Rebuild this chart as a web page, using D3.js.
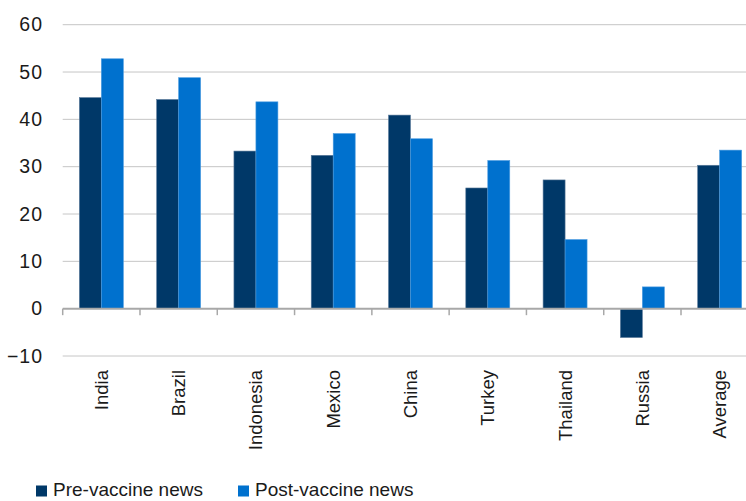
<!DOCTYPE html>
<html>
<head>
<meta charset="utf-8">
<script src="https://cdn.jsdelivr.net/npm/d3@7"></script>
<style>
  html, body { margin: 0; padding: 0; background: #fff; }
  svg { display: block; font-family: "Liberation Sans", Arial, Helvetica, sans-serif; }
</style>
</head>
<body>
<svg id="chart" width="746" height="501"></svg>
<script>
// Survey results by country, before and after the vaccine announcement
const categories = ["India", "Brazil", "Indonesia", "Mexico", "China", "Turkey", "Thailand", "Russia", "Average"];
const seriesNames = ["Pre-vaccine news", "Post-vaccine news"];
const preVaccine = [44.6, 44.2, 33.3, 32.4, 40.9, 25.5, 27.2, -6.1, 30.3];
const postVaccine = [52.8, 48.8, 43.7, 37.0, 35.9, 31.3, 14.6, 4.6, 33.5];
const yTicks = [-10, 0, 10, 20, 30, 40, 50, 60];

const colors = ["#003868", "#0071ce"];
const strokes = ["#5a7a9a", "#4a9be0"];

const svg = d3.select("#chart");
const W = 746, H = 501;

const plotLeft = 62.7, plotRight = 758.3;
const y = d3.scaleLinear().domain([-10, 60]).range([356, 24.7]);
const x = d3.scaleBand().domain(categories).range([plotLeft, plotRight]).padding(0);
const xs = d3.scaleBand().domain(seriesNames).range([0, x.bandwidth()])
  .paddingInner(0).paddingOuter(0.758);

// Horizontal gridlines
svg.append("g")
  .selectAll("line")
  .data(yTicks.filter(t => t !== 0))
  .join("line")
  .attr("x1", plotLeft).attr("x2", W)
  .attr("y1", d => y(d)).attr("y2", d => y(d))
  .attr("stroke", "#c6c6c6").attr("stroke-width", 1);

// Y axis labels
const yAxis = d3.axisLeft(y).tickValues(yTicks).tickSize(0).tickPadding(0);
const gy = svg.append("g").attr("transform", "translate(43,0)").call(yAxis);
gy.select(".domain").remove();
gy.selectAll("text")
  .attr("font-size", 19.5)
  .attr("letter-spacing", 1)
  .attr("fill", "#1a1a1a")
  .attr("font-family", "'Liberation Sans', Arial, sans-serif");

// Bars
const rows = categories.map((c, i) => ({ cat: c, values: [preVaccine[i], postVaccine[i]] }));
const groups = svg.append("g").selectAll("g")
  .data(rows).join("g")
  .attr("transform", d => `translate(${x(d.cat)},0)`);
groups.selectAll("rect")
  .data(d => d.values.map((v, k) => ({ v, k })))
  .join("rect")
  .attr("x", d => xs(seriesNames[d.k]))
  .attr("width", xs.bandwidth())
  .attr("y", d => Math.min(y(d.v), y(0)))
  .attr("height", d => Math.abs(y(d.v) - y(0)))
  .attr("fill", d => colors[d.k])
  .attr("stroke", d => strokes[d.k])
  .attr("stroke-width", 0.6);

// Zero baseline with category tick marks
const xAxis = d3.axisBottom(x).tickSize(0).tickFormat("");
const gx = svg.append("g").attr("transform", `translate(0,${y(0)})`).call(xAxis);
gx.selectAll(".tick").remove();
gx.select(".domain").remove();
gx.append("line")
  .attr("x1", plotLeft).attr("x2", W)
  .attr("y1", 0).attr("y2", 0)
  .attr("stroke", "#a8a8a8").attr("stroke-width", 2);
gx.selectAll("line.sep")
  .data(categories.map(c => x(c)))
  .join("line")
  .attr("class", "sep")
  .attr("x1", d => d).attr("x2", d => d)
  .attr("y1", 0).attr("y2", 6.5)
  .attr("stroke", "#a8a8a8").attr("stroke-width", 1.5);

// Rotated category labels
svg.append("g").selectAll("text")
  .data(categories).join("text")
  .attr("transform", d => `translate(${x(d) + x.bandwidth() / 2 + 6.5},370) rotate(-90)`)
  .attr("text-anchor", "end")
  .attr("font-size", 18.5)
  .attr("fill", "#1a1a1a")
  .text(d => d);

// Legend along the bottom edge
const legendX = [36, 238];
const legend = svg.append("g").selectAll("g")
  .data(seriesNames).join("g")
  .attr("transform", (d, i) => `translate(${legendX[i]},0)`);
legend.append("rect")
  .attr("x", 0).attr("y", 485.5).attr("width", 11).attr("height", 11)
  .attr("fill", (d, i) => colors[i]);
legend.append("text")
  .attr("x", 17).attr("y", 496)
  .attr("font-size", 19)
  .attr("fill", "#1a1a1a")
  .text(d => d);
</script>
</body>
</html>
